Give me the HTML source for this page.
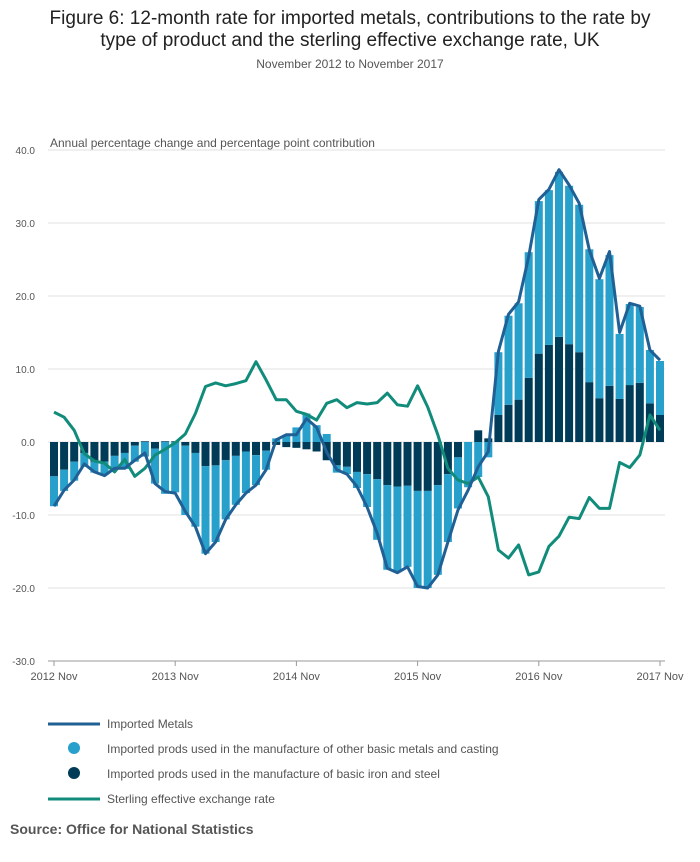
<!DOCTYPE html>
<html><head><meta charset="utf-8"><style>
body{margin:0;background:#fff;font-family:"Liberation Sans",sans-serif;}
</style></head><body>
<svg width="700" height="857" viewBox="0 0 700 857" xmlns="http://www.w3.org/2000/svg" font-family="Liberation Sans, sans-serif">
<text x="350" y="24" text-anchor="middle" font-size="19" fill="#222">Figure 6: 12-month rate for imported metals, contributions to the rate by</text>
<text x="350" y="46" text-anchor="middle" font-size="19" fill="#222">type of product and the sterling effective exchange rate, UK</text>
<text x="350" y="68" text-anchor="middle" font-size="12" fill="#555">November 2012 to November 2017</text>
<text x="50" y="147" font-size="12" fill="#555">Annual percentage change and percentage point contribution</text>
<g id="grid"></g><g id="bars"></g><g id="lines"></g><g id="axes"></g>
<g font-size="12" fill="#555">
<line x1="48" y1="724" x2="100" y2="724" stroke="#206095" stroke-width="3"/>
<text x="107" y="728">Imported Metals</text>
<circle cx="74" cy="748" r="6" fill="#27a0cc"/>
<text x="107" y="753">Imported prods used in the manufacture of other basic metals and casting</text>
<circle cx="74" cy="773" r="6" fill="#003c57"/>
<text x="107" y="778">Imported prods used in the manufacture of basic iron and steel</text>
<line x1="48" y1="799" x2="100" y2="799" stroke="#118c7b" stroke-width="3"/>
<text x="107" y="803">Sterling effective exchange rate</text>
</g>
<text x="10" y="834" font-size="14" font-weight="bold" fill="#555">Source: Office for National Statistics</text>
</svg>
<script>
const ironSteel=[-4.7,-3.8,-2.7,-1.5,-2.7,-2.7,-1.9,-1.5,-0.5,0.1,-0.9,0.1,0.1,-0.5,-1.5,-3.3,-3.2,-2.5,-1.9,-1.3,-1.8,-1.2,-0.4,-0.7,-0.8,-1.0,-1.3,-2.5,-3.2,-3.4,-4.1,-4.4,-5.1,-5.9,-6.1,-6.0,-6.7,-6.7,-5.9,-4.4,-2.1,0.0,1.6,0.5,3.7,5.1,5.8,8.8,12.1,13.3,14.4,13.4,12.3,8.2,6.0,7.7,5.9,7.8,8.1,5.3,3.7];
const otherMetals=[-4.1,-2.9,-2.6,-1.9,-1.5,-1.8,-1.8,-2.2,-2.2,-2.0,-4.8,-7.1,-6.9,-9.5,-10.1,-12.0,-10.5,-8.1,-6.7,-5.7,-4.1,-2.6,0.5,0.9,2.0,3.9,2.3,1.1,-1.0,-1.0,-2.2,-4.5,-8.3,-11.6,-11.7,-11.1,-13.3,-13.3,-12.3,-9.3,-7.0,-6.2,-4.8,-2.1,8.6,12.2,13.2,17.2,20.9,21.2,22.6,21.7,20.2,18.2,16.3,17.9,8.9,11.1,10.4,7.3,7.4];
const importedMetals=[-8.8,-6.6,-5.2,-3.0,-4.1,-4.6,-3.6,-3.6,-2.5,-1.5,-5.7,-6.8,-7.0,-9.5,-11.6,-15.3,-13.7,-10.6,-8.6,-7.0,-5.9,-3.8,0.3,1.0,1.0,3.2,2.0,-1.4,-3.8,-4.4,-6.1,-8.9,-12.5,-17.3,-17.9,-17.1,-19.8,-20.0,-18.2,-13.7,-9.3,-6.6,-3.4,-1.3,12.4,17.5,19.2,25.4,33.2,34.6,37.3,35.2,32.7,26.3,22.4,26.1,15.0,19.0,18.6,12.6,11.2];
const sterling=[4.1,3.4,1.6,-1.6,-2.6,-2.9,-4.1,-2.4,-4.7,-3.6,-1.8,-1.0,-0.1,1.1,3.9,7.6,8.1,7.7,8.0,8.4,11.0,8.5,5.8,5.8,4.2,3.8,3.0,5.3,5.8,4.7,5.4,5.2,5.4,6.7,5.1,4.9,7.7,4.8,1.0,-3.6,-5.2,-5.7,-4.8,-7.5,-14.8,-15.9,-14.1,-18.2,-17.8,-14.3,-12.9,-10.3,-10.5,-7.6,-9.1,-9.1,-2.8,-3.5,-1.8,3.7,1.6];
const yTicks=[40,30,20,10,0,-10,-20,-30];
const yTickLabels=["40.0","30.0","20.0","10.0","0.0","-10.0","-20.0","-30.0"];
const xTickIdx=[0,12,24,36,48,60];
const xTickLabels=["2012 Nov","2013 Nov","2014 Nov","2015 Nov","2016 Nov","2017 Nov"];

const NS="http://www.w3.org/2000/svg";
const X0=54,X1=660,YTOP=150,YBOT=661,VMAX=40,VMIN=-30;
const n=importedMetals.length;
function xs(i){return X0+(X1-X0)*i/(n-1);}
function ys(v){return YTOP+(VMAX-v)*(YBOT-YTOP)/(VMAX-VMIN);}
function mk(tag,attrs,parent){const e=document.createElementNS(NS,tag);for(const k in attrs)e.setAttribute(k,attrs[k]);parent.appendChild(e);return e;}
const grid=document.getElementById('grid'),bars=document.getElementById('bars'),lines=document.getElementById('lines'),axes=document.getElementById('axes');
yTicks.forEach((t,k)=>{
  const l=mk('line',{x1:48,x2:665,y1:ys(t),y2:ys(t),stroke:t===VMIN?'#999':'#e0e0e0','stroke-width':1},grid);
  
  
  const tx=mk('text',{x:35,y:ys(t)+4,'text-anchor':'end','font-size':10,fill:'#555'},axes);
  tx.textContent=yTickLabels[k];
  
  
});
xTickIdx.forEach((idx,k)=>{
  const t=mk('line',{x1:xs(idx),x2:xs(idx),y1:YBOT,y2:YBOT+5,stroke:'#999'},axes);
  
  
  const tx=mk('text',{x:xs(idx),y:680,'text-anchor':'middle','font-size':11,fill:'#555'},axes);
  tx.textContent=xTickLabels[k];
  
  
});
const bw=8;
for(let i=0;i<n;i++){
  let pos=0,neg=0;
  [[ironSteel[i],'#003c57','bar-iron-steel'],[otherMetals[i],'#27a0cc','bar-other-metals']].forEach(([v,c,nm])=>{
    let a,b;
    if(v>=0){a=pos;b=pos+v;pos=b;}else{a=neg;b=neg+v;neg=b;}
    const y1=ys(Math.max(a,b)),y2=ys(Math.min(a,b));
    const r=mk('rect',{x:xs(i)-bw/2,y:y1,width:bw,height:Math.max(0,y2-y1),fill:c},bars);
    
    
  });
}
function path(arr,col,nm){
  const d=arr.map((v,i)=>(i?'L':'M')+xs(i).toFixed(1)+','+ys(v).toFixed(1)).join('');
  const p=mk('path',{d:d,fill:'none',stroke:col,'stroke-width':3,'stroke-linejoin':'round'},lines);
  
  
}
path(sterling,'#118c7b','sterling-line');
path(importedMetals,'#206095','imported-metals-line');
</script>
</body></html>
